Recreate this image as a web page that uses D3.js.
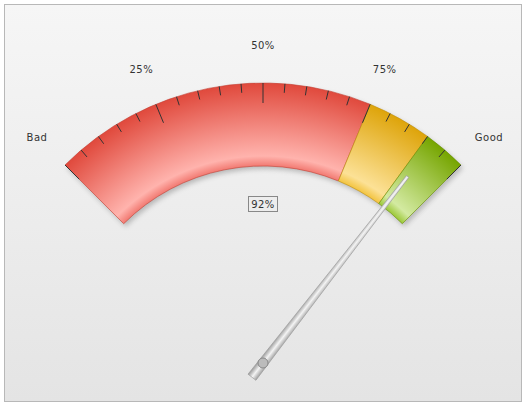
<!DOCTYPE html>
<html><head><meta charset="utf-8">
<script src="https://cdn.jsdelivr.net/npm/d3@7"></script>
<style>body{margin:0}svg{display:block}</style>
</head><body><svg id="chart"></svg>
<script>
var bandNames = ['Bad', 'Average', 'Good'];
var bandStops = [0, 75, 90, 100];
var bandColors = [['#e0493c', '#ffb3ad', '#f27a72'], ['#dea40a', '#fce196', '#f3c440'], ['#76a500', '#d3eaa1', '#9cc838']];
var tickLabels = [{v: 25, t: '25%'}, {v: 50, t: '50%'}, {v: 75, t: '75%'}];
var value = 92;

var width = 527, height = 407;
var cx = 263, cy = 363, rOut = 280, rIn = 197;
var svg = d3.select('#chart').attr('width', width).attr('height', height);
var defs = svg.append('defs');

var bg = defs.append('linearGradient').attr('id', 'bg').attr('x1', 0).attr('y1', 0).attr('x2', 0).attr('y2', 1);
bg.append('stop').attr('offset', 0).attr('stop-color', '#f6f6f6');
bg.append('stop').attr('offset', 1).attr('stop-color', '#e4e4e4');
svg.append('rect').attr('x', 4.5).attr('y', 4.5).attr('width', width - 10).attr('height', height - 10)
  .attr('fill', 'url(#bg)').attr('stroke', '#b8b8b8');

var ang = d3.scaleLinear().domain([0, 100]).range([-Math.PI / 4, Math.PI / 4]);

var sh = defs.append('filter').attr('id', 'sh').attr('x', -0.2).attr('y', -0.2).attr('width', 1.4).attr('height', 1.4);
sh.append('feGaussianBlur').attr('stdDeviation', 2.5);

var g = svg.append('g').attr('transform', 'translate(' + cx + ',' + cy + ')');
var arc = d3.arc().innerRadius(rIn).outerRadius(rOut);

g.append('path').attr('transform', 'translate(2,3)')
  .attr('d', arc({startAngle: ang(0), endAngle: ang(100)}))
  .attr('fill', '#777').attr('opacity', 0.45).attr('filter', 'url(#sh)');

bandNames.forEach(function(n, i) {
  var c = bandColors[i];
  var gr = defs.append('radialGradient').attr('id', 'band' + i).attr('gradientUnits', 'userSpaceOnUse')
    .attr('cx', 0).attr('cy', 0).attr('r', rOut);
  gr.append('stop').attr('offset', rIn / rOut).attr('stop-color', c[2]);
  gr.append('stop').attr('offset', (rIn + 10) / rOut).attr('stop-color', c[1]);
  gr.append('stop').attr('offset', 1).attr('stop-color', c[0]);
  g.append('path')
    .attr('d', arc({startAngle: ang(bandStops[i]), endAngle: ang(bandStops[i + 1])}))
    .attr('fill', 'url(#band' + i + ')')
    .attr('stroke', d3.color(c[0]).darker(0.4)).attr('stroke-width', 0.6);
});

d3.range(0, 101, 5).forEach(function(v) {
  var a = ang(v), len = v % 25 === 0 ? 20 : 9;
  g.append('line')
    .attr('x1', Math.sin(a) * rOut).attr('y1', -Math.cos(a) * rOut)
    .attr('x2', Math.sin(a) * (rOut - len)).attr('y2', -Math.cos(a) * (rOut - len))
    .attr('stroke', '#333').attr('stroke-width', 1);
});

var font = 'Verdana, "DejaVu Sans", sans-serif';
tickLabels.forEach(function(d) {
  var a = ang(d.v), r = rOut + 38;
  g.append('text').attr('x', Math.sin(a) * r).attr('y', -Math.cos(a) * r + 4)
    .attr('text-anchor', 'middle').attr('font-family', font).attr('font-size', 10)
    .attr('fill', '#333').attr('letter-spacing', 0.5).text(d.t);
});
svg.append('text').attr('x', 37).attr('y', 141).attr('text-anchor', 'middle')
  .attr('font-family', font).attr('font-size', 10).attr('fill', '#333').attr('letter-spacing', 0.5).text(bandNames[0]);
svg.append('text').attr('x', 489).attr('y', 141).attr('text-anchor', 'middle')
  .attr('font-family', font).attr('font-size', 10).attr('fill', '#333').attr('letter-spacing', 0.5).text(bandNames[2]);

svg.append('rect').attr('x', 248.5).attr('y', 196.5).attr('width', 29).attr('height', 15)
  .attr('fill', 'none').attr('stroke', '#888');
svg.append('text').attr('x', 263).attr('y', 208).attr('text-anchor', 'middle')
  .attr('font-family', font).attr('font-size', 10).attr('fill', '#333').attr('letter-spacing', 0.5).text(value + '%');

// needle
var ng = defs.append('linearGradient').attr('id', 'ndl').attr('x1', 0).attr('y1', 0).attr('x2', 1).attr('y2', 0);
ng.append('stop').attr('offset', 0).attr('stop-color', '#9a9a9a');
ng.append('stop').attr('offset', 0.5).attr('stop-color', '#f4f4f4');
ng.append('stop').attr('offset', 1).attr('stop-color', '#a0a0a0');
var deg = ang(value) * 180 / Math.PI;
var nd = g.append('g').attr('transform', 'rotate(' + deg + ')');
nd.append('path').attr('d', 'M-5,18 L5,18 L1.5,-236 L-1.5,-236 Z')
  .attr('fill', 'url(#ndl)').attr('stroke', '#999').attr('stroke-width', 0.6);
g.append('circle').attr('r', 5).attr('fill', '#bbb').attr('stroke', '#888').attr('stroke-width', 1);
</script></body></html>
